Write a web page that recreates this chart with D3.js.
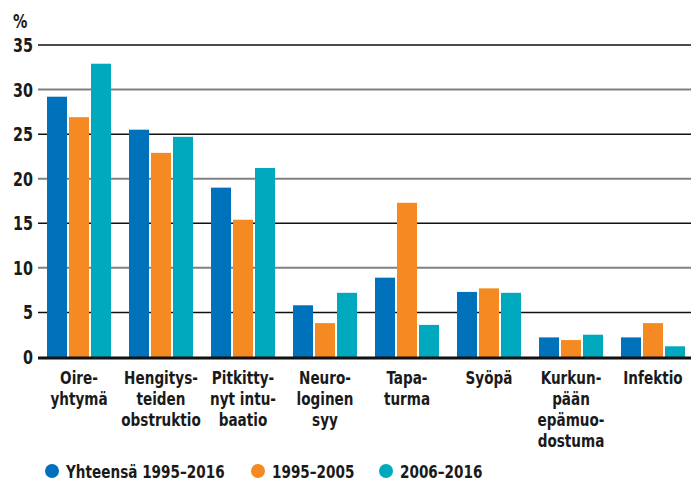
<!doctype html>
<html lang="fi">
<head>
  <meta charset="utf-8">
  <script src="https://cdn.jsdelivr.net/npm/d3@7"></script>
</head>

<style>
    body {
        margin: 0;
        background-color: white;
    }

    svg text {
        font-family: "Liberation Sans Narrow", "DejaVu Sans Condensed", "Roboto", sans-serif;
        font-weight: bold;
        fill: #1a1a1a;
    }
</style>

<body>
</body>

<script>

    // data
    let categories = [
        ["Oire-", "yhtymä"],
        ["Hengitys-", "teiden", "obstruktio"],
        ["Pitkitty-", "nyt intu-", "baatio"],
        ["Neuro-", "loginen", "syy"],
        ["Tapa-", "turma"],
        ["Syöpä"],
        ["Kurkun-", "pään", "epämuo-", "dostuma"],
        ["Infektio"]
    ]
    let seriesNames = ["Yhteensä 1995–2016", "1995–2005", "2006–2016"]
    let total = [29.2, 25.5, 19.0, 5.8, 8.9, 7.3, 2.2, 2.2]
    let early = [26.9, 22.9, 15.4, 3.8, 17.3, 7.7, 1.9, 3.8]
    let late = [32.9, 24.7, 21.2, 7.2, 3.6, 7.2, 2.5, 1.2]
    let yTicks = [0, 5, 10, 15, 20, 25, 30, 35]
    let colors = ["#0071bb", "#f58a22", "#00a9bd"]

    let width = 691, height = 482
    let squeeze = 'scale(0.84,1)'   // narrow the font to look like the condensed original

    let svg = d3.select('body')
        .append('svg')
        .attr('width', width)
        .attr('height', height)

    let y = d3.scaleLinear()
        .domain([0, 35])
        .range([357, 45])

    let x0 = d3.scaleBand()
        .domain(d3.range(categories.length))
        .range([38, 38 + 82 * categories.length])

    let x1 = d3.scaleBand()
        .domain(d3.range(seriesNames.length))
        .range([9, 73])
        .paddingInner(0.0909)

    let color = d3.scaleOrdinal()
        .domain(d3.range(seriesNames.length))
        .range(colors)

    // gridlines
    svg.append('g')
        .selectAll('line')
        .data(yTicks.filter(t => t > 0))
        .enter()
        .append('line')
        .attr('x1', 38)
        .attr('x2', width)
        .attr('y1', d => y(d))
        .attr('y2', d => y(d))
        .attr('stroke', d => d % 10 == 0 ? '#808080' : '#111')
        .attr('stroke-width', d => d % 10 == 0 ? 2 : 1.5)

    // tick labels
    svg.append('g')
        .selectAll('text')
        .data(yTicks)
        .enter()
        .append('text')
        .attr('transform', d => 'translate(33,' + (y(d) + 7) + ') ' + squeeze)
        .attr('text-anchor', 'end')
        .style('font-size', '19px')
        .text(d => d)

    svg.append('text')
        .attr('transform', 'translate(13,28) ' + squeeze)
        .style('font-size', '19px')
        .text('%')

    // bars
    let rows = categories.map((c, i) => [total[i], early[i], late[i]])

    svg.append('g')
        .selectAll('g')
        .data(rows)
        .enter()
        .append('g')
        .attr('transform', (d, i) => 'translate(' + x0(i) + ',0)')
        .selectAll('rect')
        .data(d => d)
        .enter()
        .append('rect')
        .attr('x', (d, j) => x1(j))
        .attr('width', x1.bandwidth())
        .attr('y', d => y(d))
        .attr('height', d => y(0) - y(d))
        .attr('fill', (d, j) => color(j))

    // baseline
    svg.append('line')
        .attr('x1', 38)
        .attr('x2', width)
        .attr('y1', y(0) + 1)
        .attr('y2', y(0) + 1)
        .attr('stroke', '#111')
        .attr('stroke-width', 3)

    // category labels
    let lab = svg.append('g')
        .selectAll('text')
        .data(categories)
        .enter()
        .append('text')
        .attr('text-anchor', 'middle')
        .style('font-size', '18px')
        .attr('transform', (d, i) => 'translate(' + (x0(i) + 41) + ',384) ' + squeeze)

    lab.selectAll('tspan')
        .data(d => d)
        .enter()
        .append('tspan')
        .attr('x', 0)
        .attr('y', (d, k) => k * 21)
        .text(d => d)

    // legend
    let legendX = [52, 258, 386]

    let leg = svg.append('g')
        .selectAll('g')
        .data(seriesNames)
        .enter()
        .append('g')
        .attr('transform', (d, i) => 'translate(' + legendX[i] + ',471)')

    leg.append('circle')
        .attr('r', 7)
        .attr('fill', (d, i) => color(i))

    leg.append('text')
        .attr('transform', 'translate(14,7) ' + squeeze)
        .style('font-size', '18px')
        .text(d => d)

</script>

</html>
